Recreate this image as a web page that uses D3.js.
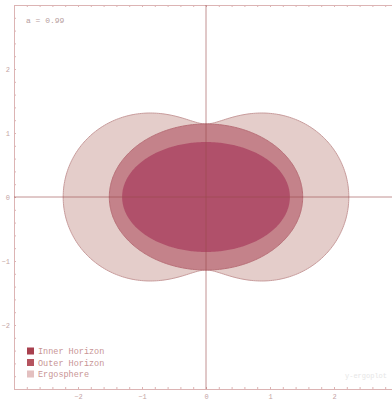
<!DOCTYPE html>
<html>
<head>
<meta charset="utf-8">
<script src="https://cdn.jsdelivr.net/npm/d3@7"></script>
<style>
  html, body { margin: 0; padding: 0; background: #fff; }
  svg { display: block; }
</style>
</head>
<body>
<svg id="chart" width="392" height="403"></svg>
<script>
// Kerr black hole, geometric units (M = 1)
const spin = [0.99];
const mass = [1];
const regionNames = ["Inner Horizon", "Outer Horizon", "Ergosphere"];
const regionColors = ["#b0506a", "#c4828a", "#e4cdca"];
const xTicks = [-2, -1, 0, 1, 2];
const yTicks = [-2, -1, 0, 1, 2];
const axisDomain = [-3, 3];

const a = spin[0], M = mass[0];
const svg = d3.select("#chart");
const x = d3.scaleLinear().domain(axisDomain).range([14, 398]);
const y = d3.scaleLinear().domain(axisDomain).range([389, 5]);

// Boyer–Lindquist radius -> pseudo-Cartesian outline (x = sqrt(r^2+a^2) sinθ, z = r cosθ)
const thetas = d3.range(0, 361, 1).map(d => d * Math.PI / 180);
function outline(rFn) {
  return thetas.map(t => {
    const r = rFn(t);
    return [Math.sqrt(r * r + a * a) * Math.sin(t), r * Math.cos(t)];
  });
}
const rPlus = M + Math.sqrt(M * M - a * a);
const rMinus = M - Math.sqrt(M * M - a * a);
const shapes = [
  { name: regionNames[2], color: regionColors[2], stroke: "#c89c9c", pts: outline(t => M + Math.sqrt(M * M - a * a * Math.cos(t) ** 2)) },
  { name: regionNames[1], color: regionColors[1], stroke: "#b87078", pts: outline(() => rPlus) },
  { name: regionNames[0], color: regionColors[0], stroke: "none", pts: outline(() => rMinus) }
];

const line = d3.line().x(d => x(d[0])).y(d => y(d[1])).curve(d3.curveLinearClosed);
svg.append("g").selectAll("path").data(shapes).join("path")
  .attr("d", d => line(d.pts))
  .attr("fill", d => d.color)
  .attr("stroke", d => d.stroke)
  .attr("stroke-width", 1);

// Frame axes with major and minor ticks
const axisColor = "#dcb4b4";
const monoFont = "'Liberation Mono', 'Courier New', Courier, monospace";
const minor = d3.range(-3, 3.001, 0.2).map(v => Math.round(v * 10) / 10);
function styleAxis(g) {
  g.selectAll("path.domain").attr("stroke", axisColor);
  g.selectAll("line").attr("stroke", axisColor);
  g.selectAll("text").attr("fill", "#c4a4a4")
    .style("font-family", monoFont).style("font-size", "7px");
}
const fmt = d => (d < 0 ? "\u2212" + Math.abs(d) : String(d));

svg.append("g").attr("transform", `translate(0,${y(-3)})`)
  .call(d3.axisTop(x).tickValues(minor).tickSize(2).tickFormat(""))
  .call(styleAxis);
svg.append("g").attr("transform", `translate(0,${y(-3)})`)
  .call(d3.axisBottom(x).tickValues(xTicks).tickSize(0).tickPadding(5).tickFormat(fmt))
  .call(g => g.select(".domain").remove())
  .call(styleAxis);
svg.append("g").attr("transform", `translate(0,${y(3)})`)
  .call(d3.axisBottom(x).tickValues(minor).tickSize(2).tickFormat(""))
  .call(styleAxis);
svg.append("g").attr("transform", `translate(${x(-3)},0)`)
  .call(d3.axisRight(y).tickValues(minor).tickSize(2).tickFormat(""))
  .call(styleAxis);
svg.append("g").attr("transform", `translate(${x(-3)},0)`)
  .call(d3.axisLeft(y).tickValues(yTicks).tickSize(0).tickPadding(4).tickFormat(fmt))
  .call(g => g.select(".domain").remove())
  .call(styleAxis);

// Coordinate cross through the origin
svg.append("line").attr("x1", x(-3)).attr("x2", x(3)).attr("y1", y(0)).attr("y2", y(0))
  .attr("stroke", "#9a4a4a").attr("stroke-opacity", 0.6).attr("stroke-width", 1);
svg.append("line").attr("x1", x(0)).attr("x2", x(0)).attr("y1", y(3)).attr("y2", y(-3))
  .attr("stroke", "#9a4a4a").attr("stroke-opacity", 0.6).attr("stroke-width", 1);

// Spin annotation
svg.append("text").attr("x", 26).attr("y", 23)
  .attr("fill", "#b8a0a0").style("font-family", monoFont).style("font-size", "8px")
  .text(`a = ${a}`);

// Legend
const legendColors = ["#a8404e", "#b5545f", "#e3c0c0"];
const lg = svg.append("g").attr("transform", "translate(27,351)");
const item = lg.selectAll("g").data(regionNames).join("g")
  .attr("transform", (d, i) => `translate(0,${i * 11.5})`);
item.append("rect").attr("x", 0).attr("y", -3.5).attr("width", 7).attr("height", 7)
  .attr("fill", (d, i) => legendColors[i]);
item.append("text").attr("x", 11).attr("y", 3)
  .attr("fill", "#c89494").style("font-family", monoFont).style("font-size", "8.5px")
  .text(d => d);

// Credit
svg.append("text").attr("x", 387).attr("y", 378).attr("text-anchor", "end")
  .attr("fill", "#e6e6e6").style("font-family", monoFont).style("font-size", "7px")
  .text("y-ergoplot");
</script>
</body>
</html>
